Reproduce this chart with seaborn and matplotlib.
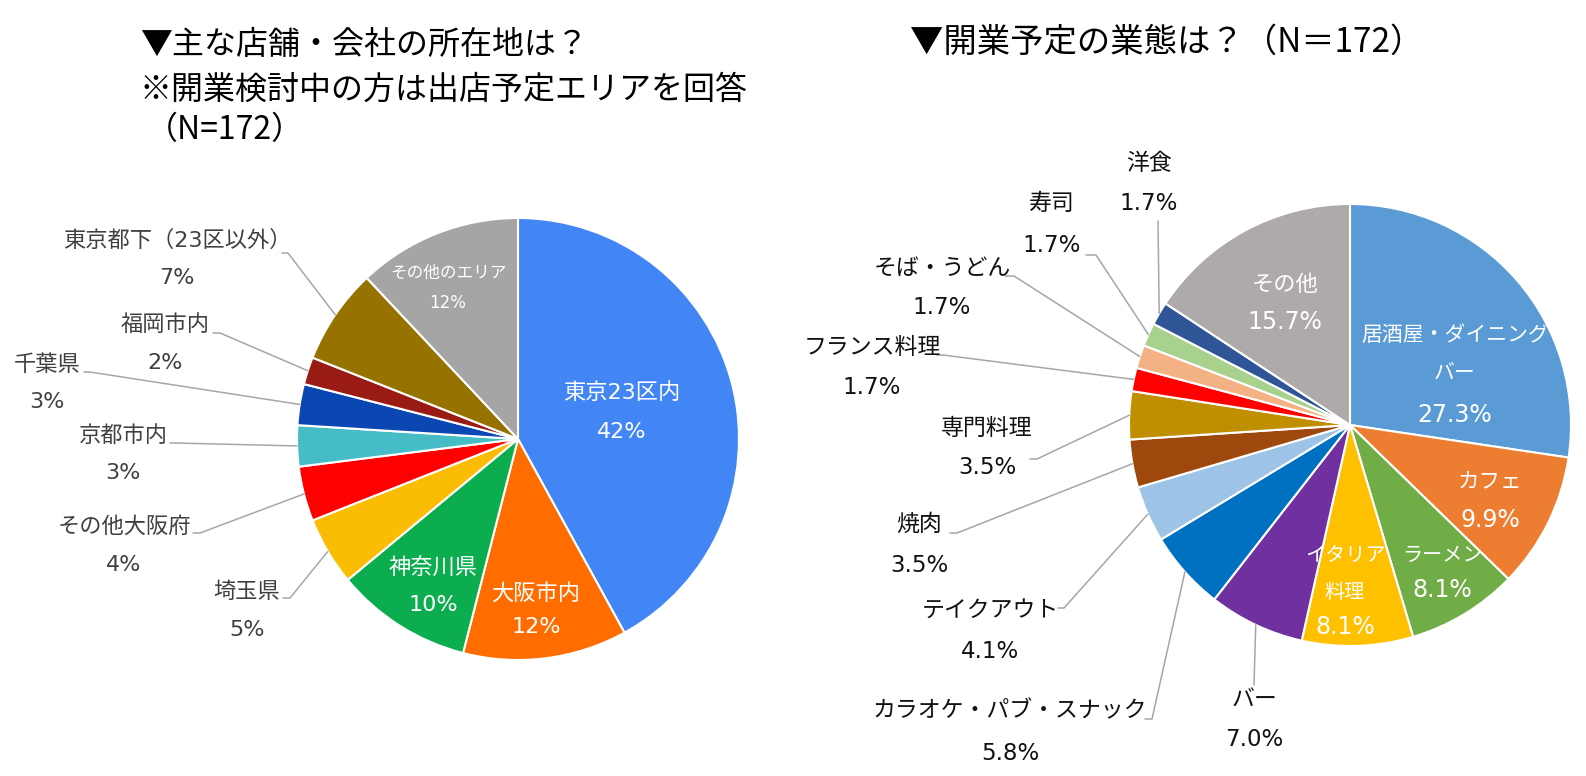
import numpy as np
import matplotlib.pyplot as plt
import seaborn as sns

# ================================================
#   データ (N=172)
# ================================================
# 主な店舗・会社の所在地
area_names = ["東京23区内", "大阪市内", "神奈川県", "埼玉県", "その他大阪府",
              "京都市内", "千葉県", "福岡市内", "東京都下（23区以外）", "その他のエリア"]
area_pct = [42, 12, 10, 5, 4, 3, 3, 2, 7, 12]
area_colors = ["#4285F4", "#FF6D01", "#0BAD4E", "#FBBC04", "#FF0000",
               "#46BDC6", "#0B47B3", "#9A1B13", "#967300", "#A5A5A5"]

# 開業予定の業態
type_names = ["居酒屋・ダイニング\nバー", "カフェ", "ラーメン", "イタリア\n料理", "バー",
              "カラオケ・パブ・スナック", "テイクアウト", "焼肉", "専門料理", "フランス料理",
              "そば・うどん", "寿司", "洋食", "その他"]
type_pct = [27.3, 9.9, 8.1, 8.1, 7.0, 5.8, 4.1, 3.5, 3.5, 1.7, 1.7, 1.7, 1.7, 15.7]
type_colors = ["#5B9BD5", "#ED7D31", "#70AD47", "#FFC000", "#7030A0",
               "#0070C0", "#9DC3E6", "#9E480E", "#BF8F00", "#FF0000",
               "#F4B183", "#A9D18E", "#2F5597", "#AEAAAA"]

# ================================================
#   ラベル配置 (画像座標 px)
# ================================================
# inside: idx -> (x, [y per line], name size, pct size)
area_inside = {0: (622, [393, 432], 16, 16), 1: (536, [593, 627], 16, 16),
               2: (433, [568, 605], 16, 16), 9: (448, [273, 303], 12, 12)}
# outside: idx -> (x, [y per line], elbow, stub_x)
area_outside = {3: (247, [592, 630], (290, 598), 283),
                4: (124, [527, 565], (200, 533), 193),
                5: (123, [435, 473], (176, 443), 170),
                6: (47, [365, 402], (90, 372), 84),
                7: (165, [325, 363], (220, 333), 213),
                8: (177, [240, 278], (288, 253), 282)}

type_inside = {0: (1455, [335, 373, 415], 15, 17), 1: (1490, [482, 520], 15.5, 17),
               2: (1442, [555, 590], 14.5, 17), 3: (1345, [555, 592, 627], 14.5, 17),
               13: (1285, [285, 322], 16, 17)}
type_outside = {4: (1254, [699, 739], (1254, 685), None),
                5: (1010, [711, 753], (1152, 719), 1145),
                6: (990, [610, 652], (1064, 608), 1058),
                7: (919, [524, 565], (957, 533), 950),
                8: (987, [428, 468], (1037, 459), 1030),
                9: (872, [347, 388], (943, 355), 937),
                10: (942, [268, 308], (1014, 276), 1005),
                11: (1052, [204, 246], (1096, 255), 1086),
                12: (1149, [163, 203], (1158, 221), None)}

sns.set_theme(style="white")
# 数字は幅広の DejaVu、日本語は Noto にフォールバック
plt.rcParams["font.family"] = ["DejaVu Sans", "Noto Sans CJK JP"]

fig = plt.figure(figsize=(15.86, 7.76), dpi=100)
ax = fig.add_axes([0, 0, 1, 1])


def draw_pie(values, colors, names, center, radius, fmt, inside, outside, out_color, out_size):
    wedges, _ = ax.pie(values, colors=colors, center=center, radius=radius,
                       startangle=-90, counterclock=True,
                       wedgeprops=dict(edgecolor="white", linewidth=1.5))
    for i, w in enumerate(wedges):
        pct = fmt.format(values[i])
        lines = names[i].split("\n") + [pct]
        if i in inside:
            x, ys, fs_name, fs_pct = inside[i]
            for k, (txt, y) in enumerate(zip(lines, ys)):
                fs = fs_pct if k == len(lines) - 1 else fs_name
                ax.text(x, y, txt, ha="center", va="center", fontsize=fs, color="white")
        elif i in outside:
            x, ys, elbow, stub = outside[i]
            for txt, y in zip(lines, ys):
                ax.text(x, y, txt, ha="center", va="center", fontsize=out_size, color=out_color)
            ang = np.deg2rad((w.theta1 + w.theta2) / 2)
            px = center[0] + radius * np.cos(ang)
            py = center[1] + radius * np.sin(ang)
            xs = [px, elbow[0]]
            yl = [py, elbow[1]]
            if stub is not None:
                xs.append(stub)
                yl.append(elbow[1])
            ax.plot(xs, yl, color="#A6A6A6", lw=1.1)


draw_pie(area_pct, area_colors, area_names, (518, 439), 221, "{:.0f}%",
         area_inside, area_outside, "#404040", 16)
draw_pie(type_pct, type_colors, type_names, (1350, 425), 221, "{:.1f}%",
         type_inside, type_outside, "#111111", 16.5)

# タイトル
title_font = ["Noto Sans CJK JP", "DejaVu Sans"]
ax.text(140, 45, "▼主な店舗・会社の所在地は？", ha="left", va="center",
        fontsize=23, color="black", family=title_font)
ax.text(140, 90, "※開業検討中の方は出店予定エリアを回答", ha="left", va="center",
        fontsize=23, color="black", family=title_font)
ax.text(146, 130, "（N=172）", ha="left", va="center",
        fontsize=23, color="black", family=title_font)
ax.text(910, 42, "▼開業予定の業態は？（N＝172）", ha="left", va="center",
        fontsize=24, color="black", family=title_font)

ax.set_xlim(0, 1586)
ax.set_ylim(776, 0)
ax.set_aspect("auto")
ax.axis("off")

fig.savefig("out.png", dpi=100, facecolor="white")
